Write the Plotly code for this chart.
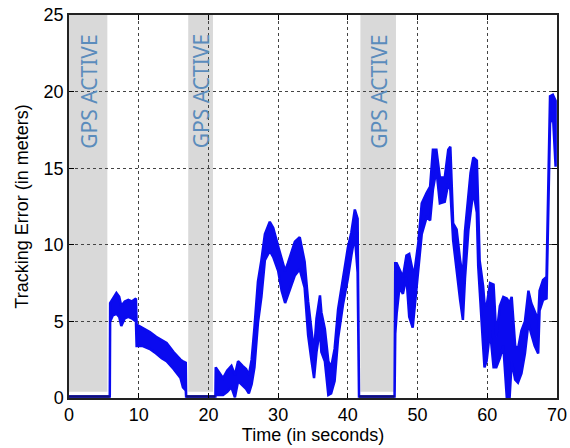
import plotly.graph_objects as go

# Tracking error envelope (upper / lower edge of the noisy trace), in meters
time_s = [0, 5.85, 5.9, 6.3, 6.8, 7.2, 7.5, 8.0, 8.5, 9.0, 9.6, 9.7, 10.5, 11.6, 12.5, 13.3,
          14.0, 15.0, 16.0, 16.35, 16.75, 16.8,
          21.0, 21.05, 21.6, 22.1, 22.7, 23.3, 23.8, 24.25, 24.9, 25.4, 25.8, 26.2, 26.6,
          27.1, 27.6, 28.1, 28.8, 29.3, 30.0, 30.5, 31.0, 31.4, 32.4, 33.1, 33.8, 34.3,
          34.8, 35.15, 35.5, 36.0, 36.2, 36.7, 37.2, 37.6, 38.1, 38.6, 39.3, 40.0, 40.5,
          41.0, 41.4, 41.6,
          46.7, 46.8, 47.0, 47.4, 47.9, 48.4, 48.8, 49.3, 49.6, 50.1, 50.6, 51.3, 51.8,
          52.2, 52.7, 53.2, 53.9, 54.4, 54.7, 55.1, 55.6, 56.1, 56.5, 56.8, 57.3, 57.6,
          58.0, 58.5, 58.7, 58.9, 59.4, 59.6, 59.9, 60.4, 60.9, 61.3, 61.8, 62.3, 62.8,
          63.2, 63.5, 64.0, 64.4, 64.9, 65.4, 65.9, 66.3, 66.8, 67.3, 67.5, 68.0, 68.5,
          68.7, 69.0, 69.4, 69.8]

error_upper = [0.1, 0.1, 6.2, 6.5, 6.85, 6.6, 6.0, 6.3, 6.4, 6.3, 6.5, 4.8, 4.6, 4.3, 4.0, 3.8,
               3.6, 3.0, 2.5, 2.4, 2.3, 0.1,
               0.1, 2.0, 1.6, 1.3, 1.8, 2.1, 1.5, 2.4, 2.1, 1.9, 1.5, 2.5, 4.6,
               7.6, 9.0, 10.7, 11.5, 11.1, 9.9, 9.0, 8.3, 8.8, 10.2, 10.5, 8.9, 6.3,
               4.1, 3.0, 5.2, 6.7, 5.6, 4.5, 2.4, 2.0, 3.2, 5.8, 7.8, 9.8, 10.8,
               12.3, 11.7, 0.1,
               0.1, 8.8, 8.8, 8.35, 7.9, 9.3, 9.4, 8.3, 8.4, 10.1, 12.7, 13.4, 13.8,
               16.2, 16.2, 14.4, 14.4, 16.2, 16.4, 11.4, 11.0, 9.0, 7.9, 10.9, 13.6, 14.7,
               15.7, 15.5, 12.5, 9.0, 7.3, 6.2, 6.0, 7.5, 7.4, 4.0, 6.0, 6.6, 6.5,
               6.2, 6.6, 3.4, 3.2, 4.4, 5.0, 7.0, 6.2, 5.6, 5.1, 7.0, 7.7, 7.9,
               12.9, 19.7, 19.8, 19.4]

error_lower = [0.1, 0.1, 5.0, 5.4, 5.5, 5.3, 4.7, 5.2, 5.3, 5.2, 5.0, 3.4, 3.4, 3.2, 2.9, 2.6,
               2.4, 1.9, 1.3, 0.7, 0.5, 0.1,
               0.1, 0.2, 0.2, 0.2, 0.4, 0.7, 0.05, 1.1, 0.8, 0.6, 0.3, 0.9, 2.0,
               4.9, 6.6, 9.0, 9.6, 9.2, 8.3, 7.0, 6.2, 6.8, 8.0, 8.4, 7.2, 4.1,
               2.4, 1.3, 3.0, 4.5, 3.0, 2.4, 0.2, 0.3, 1.1, 3.9, 6.1, 7.8, 9.3,
               10.6, 8.2, 0.1,
               0.1, 4.2, 5.5, 7.2, 6.8, 7.9, 5.3, 4.6, 6.2, 8.3, 10.7, 11.8, 11.6,
               13.6, 14.9, 12.7, 12.8, 14.0, 13.6, 10.3, 8.3, 6.4, 5.1, 7.8, 11.0, 12.1,
               13.5, 12.1, 8.6, 7.7, 3.4, 2.0, 2.4, 4.4, 2.0, 2.0, 2.6, 3.4, 0.0,
               0.0, 2.4, 1.2, 1.0, 1.6, 2.9, 4.9, 4.2, 3.4, 2.9, 5.7, 6.4, 6.5,
               11.6, 17.9, 18.6, 15.1]

# Intervals where GPS is active (seconds)
gps_start = [0.0, 17.1, 41.8]
gps_end = [5.5, 20.65, 46.9]
gps_label = "GPS ACTIVE"

x_ticks = [0, 10, 20, 30, 40, 50, 60, 70]
y_ticks = [0, 5, 10, 15, 20, 25]

BLUE = "#0a0af0"

fig = go.Figure()

# Envelope polygon: upper edge forward, lower edge backward
fig.add_trace(go.Scatter(
    x=time_s + time_s[::-1],
    y=error_upper + error_lower[::-1],
    mode="lines",
    fill="toself",
    fillcolor=BLUE,
    line=dict(color=BLUE, width=2.5),
    hoverinfo="skip",
    showlegend=False,
))

# Baseline while GPS corrects the estimate
fig.add_trace(go.Scatter(
    x=[0, 5.85, None, 16.8, 21.0, None, 41.6, 46.7],
    y=[0.1, 0.1, None, 0.1, 0.1, None, 0.1, 0.1],
    mode="lines", line=dict(color="#10107a", width=2.5),
    hoverinfo="skip", showlegend=False,
))

shapes = []
annotations = []
for s, e in zip(gps_start, gps_end):
    shapes.append(dict(type="rect", xref="x", yref="y", x0=s, x1=e, y0=0.4, y1=25,
                       fillcolor="#d9d9d9", line=dict(width=0), layer="below"))
    annotations.append(dict(x=(s + e) / 2, y=20.0, xref="x", yref="y", text=gps_label,
                            textangle=-90, showarrow=False,
                            font=dict(family="Noto Sans, Lato, sans-serif", size=21,
                                      color="#5b8cbc")))

axis_font = dict(family="Liberation Sans, Arial, sans-serif", size=18, color="black")

fig.update_layout(
    width=570, height=448,
    margin=dict(l=69, r=13, t=15, b=50),
    paper_bgcolor="white",
    plot_bgcolor="white",
    shapes=shapes,
    annotations=annotations,
    xaxis=dict(
        range=[0, 70], tickvals=x_ticks, ticks="inside", ticklen=5, tickcolor="black",
        showline=True, linecolor="#222222", linewidth=1.5, mirror="ticks",
        showgrid=True, gridcolor="#444444", griddash="dot", gridwidth=1,
        zeroline=False, tickfont=axis_font, automargin=False,
        title=dict(text="Time (in seconds)", font=axis_font, standoff=2),
    ),
    yaxis=dict(
        range=[0, 25], tickvals=y_ticks, ticks="inside", ticklen=5, tickcolor="black",
        showline=True, linecolor="#222222", linewidth=1.5, mirror="ticks",
        showgrid=True, gridcolor="#444444", griddash="dot", gridwidth=1,
        zeroline=False, tickfont=axis_font, automargin=False,
        title=dict(text="Tracking Error (in meters)", font=axis_font, standoff=10),
    ),
)

fig.write_html("out.html")
